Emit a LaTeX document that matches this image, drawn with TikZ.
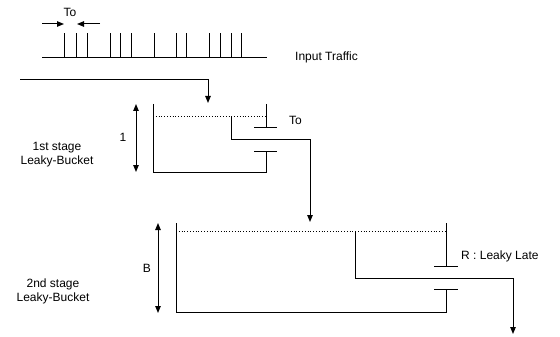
\documentclass[tikz,border=0pt]{standalone}
\usepackage{fontspec}
\setmainfont{Liberation Sans}
\usetikzlibrary{arrows.meta}

\begin{document}
\begin{tikzpicture}[x=1pt, y=-1pt,
      wall/.style={line width=1pt},
      flow/.style={line width=1pt, -{Triangle[length=7pt, width=5.5pt]}},
      span/.style={line width=1pt, {Triangle[length=7pt, width=5.5pt]}-{Triangle[length=7pt, width=5.5pt]}},
      lbl/.style={font=\fontsize{12}{14}\selectfont, inner sep=1pt, align=center}
    ]
    \useasboundingbox (0,0) rectangle (560,337);

    % Input traffic
    \node[lbl] (period) at (70,12) {To};
    \coordinate (pl) at (42,24);  \coordinate (plend) at (64,24);
    \coordinate (pr) at (100,24); \coordinate (prend) at (77,24);
    \draw[flow] (pl) -- (plend);
    \draw[flow] (pr) -- (prend);
    \coordinate (tstart) at (42,58); \coordinate (tend) at (267,58);
    \draw[wall] (tstart) -- (tend);
    \foreach \x in {64.3,76,87.3,110,120,131.7,154,176.7,186.7,209.3,220.7,231,241.7} {
      \draw[wall] (\x,58) -- (\x,33);
    }
    \node[lbl, anchor=west] (traffic) at (294,57) {Input Traffic};

    % Feed into 1st bucket
    \coordinate (feed) at (20,80);
    \coordinate (in1) at (208,103);
    \draw[flow] (feed) -| (in1);

    % 1st stage bucket
    \draw[wall] (153,104) -- (153,172) -- (266,172) -- (266,151);
    \draw[wall] (254,151) -- (277,151);
    \draw[wall] (266,104) -- (266,127);
    \draw[wall] (254,127) -- (277,127);
    \draw[dotted, line width=0.8pt] (153,116) -- (266,116);
    \node[lbl, anchor=west] (rate1) at (288,120) {To};
    \coordinate (top1) at (136,104); \coordinate (bot1) at (136,172);
    \draw[span] (top1) -- (bot1);
    \node[lbl] (size1) at (123,137) {1};
    \node[lbl] (stage1) at (57,155) {1st stage\\Leaky-Bucket};

    % Output of 1st bucket into 2nd bucket
    \coordinate (out1) at (231,116);
    \coordinate (bend1) at (231,139);
    \coordinate (in2) at (310,222);
    \draw[flow] (out1) -- (bend1) -| (in2);

    % 2nd stage bucket
    \draw[wall] (176,223) -- (176,312) -- (446,312) -- (446,289);
    \draw[wall] (434,289) -- (458,289);
    \draw[wall] (446,223) -- (446,266);
    \draw[wall] (434,266) -- (458,266);
    \draw[dotted, line width=0.8pt] (176,231) -- (446,231);
    \node[lbl, anchor=west] (rate2) at (460,256) {R : Leaky Late};
    \coordinate (top2) at (158,223); \coordinate (bot2) at (158,313);
    \draw[span] (top2) -- (bot2);
    \node[lbl] (size2) at (147,268) {B};
    \node[lbl] (stage2) at (53,291) {2nd stage\\Leaky-Bucket};

    % Output of 2nd bucket
    \coordinate (out2) at (355,231);
    \coordinate (bend2) at (355,278);
    \coordinate (exit) at (513,334);
    \draw[flow] (out2) -- (bend2) -| (exit);
  \end{tikzpicture}
\end{document}
